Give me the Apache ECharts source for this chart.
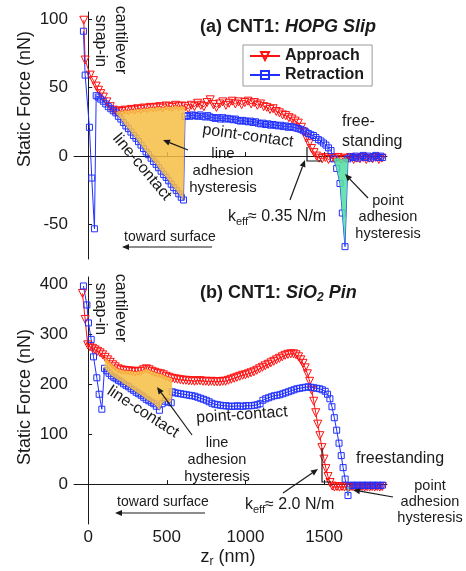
<!DOCTYPE html>
<html>
<head>
<meta charset="utf-8">
<script src="https://cdn.jsdelivr.net/npm/echarts@6/dist/echarts.min.js"></script>
<style>
  html, body { margin: 0; background: #fff; }
  #chart { width: 466px; height: 571px; }
</style>
</head>
<body>
<div id="chart"></div>
<script>
// tick values
const xTicks = [0, 500, 1000, 1500]
const yTicksA = [-50, 0, 50, 100]
const yTicksB = [0, 100, 200, 300, 400]

// (a) HOPG slip: [z_r (nm), force (nN)]
const approachA = [
  [-28, 99], [-19, 70], [13, 59], [34, 55], [51, 51], [66, 48], [80, 45.5], [97, 43], [119, 39.5], [140, 36],
  [161, 33.5], [178, 32], [195, 33], [215, 32.5], [235, 33.5], [255, 33], [275, 34], [295, 33.5], [315, 34.5],
  [335, 34], [355, 35], [375, 34.5], [395, 35.5], [415, 35], [435, 35.5], [455, 36], [475, 35], [495, 36.5],
  [515, 36], [535, 35.5], [555, 37], [575, 36], [595, 36.5], [616, 36], [636, 34.5], [656, 37], [676, 36],
  [696, 38.5], [716, 37], [736, 36], [756, 39], [776, 41], [796, 37.5], [816, 35.5], [836, 38], [856, 39.5],
  [876, 37], [896, 38.5], [916, 40], [936, 38], [956, 39.5], [976, 37.5], [996, 39], [1016, 40], [1036, 38],
  [1056, 39], [1076, 37], [1096, 38], [1116, 36], [1136, 35.5], [1156, 34], [1176, 34.5], [1196, 32.5],
  [1216, 31.5], [1236, 30], [1256, 29.5], [1276, 28], [1296, 27], [1316, 25.5], [1336, 24], [1356, 21],
  [1372, 17.5], [1388, 13], [1404, 9], [1420, 5.5], [1436, 2.5], [1452, 0], [1468, -1.5], [1488, -2],
  [1508, -1], [1528, -2.5], [1548, -1.5], [1568, -2], [1588, -1], [1608, -2.5], [1628, -1.5], [1648, -2],
  [1668, -1], [1688, -2.5], [1708, -1.5], [1728, -2], [1748, -1], [1768, -2.5], [1788, -1.5], [1808, -2],
  [1828, -1], [1848, -2.5], [1868, -1.5]
]
const retractionA = [
  [-30, 91], [-19, 59], [8, 21], [23, -16], [40, -53], [51, 44], [64, 43], [80, 41.5], [96, 40], [112, 38],
  [128, 36], [144, 34.5], [160, 33], [176, 31.5], [192, 29], [208, 27], [224, 24.5], [240, 22], [256, 20],
  [272, 17.5], [288, 15], [304, 13], [320, 10.5], [336, 8], [352, 5.5], [368, 3], [384, 1], [400, -1.5],
  [416, -4], [432, -6], [448, -8.5], [464, -11], [480, -13.5], [496, -15.5], [512, -18], [528, -20.5],
  [544, -23], [560, -25], [576, -27.5], [592, -30], [606, -32], [616, 29], [632, 29.5], [648, 29], [664, 30],
  [680, 29.5], [696, 29], [712, 30], [728, 29], [744, 28.5], [760, 29.5], [776, 28.5], [792, 28], [808, 27.5],
  [824, 28], [840, 27], [856, 28], [872, 27], [888, 27.5], [904, 27], [920, 26.5], [936, 27], [952, 26],
  [968, 25.5], [984, 26], [1000, 25.5], [1016, 25], [1032, 25.5], [1048, 24.5], [1064, 25], [1080, 24],
  [1096, 23.5], [1112, 24], [1128, 23], [1144, 23.5], [1160, 22.5], [1176, 23], [1192, 22.5], [1208, 22],
  [1224, 22.5], [1240, 21.5], [1256, 22], [1272, 21], [1288, 21.5], [1304, 21], [1320, 20.5], [1336, 20],
  [1352, 19.5], [1368, 18.5], [1384, 17.5], [1400, 16.5], [1416, 15.5], [1432, 15], [1448, 13.5], [1464, 12],
  [1480, 11], [1496, 9.5], [1512, 8], [1528, 6], [1544, 4], [1560, -2], [1580, -9], [1601, -20], [1616, -41.5],
  [1633, -66], [1652, -2], [1668, -0.5], [1684, -1], [1700, 0], [1716, -1.5], [1732, -0.5], [1748, 0.5],
  [1764, -1], [1780, 0], [1796, -1.5], [1812, -0.5], [1828, 0.5], [1844, -1], [1860, 0], [1872, -1]
]

// (b) SiO2 pin
const approachB = [
  [-36, 382], [-19, 330], [-3, 279], [12, 275], [28, 272], [44, 269], [60, 266], [76, 263], [92, 259],
  [108, 254], [124, 249], [140, 244], [156, 239], [172, 235], [190, 231], [208, 229], [226, 228], [244, 227],
  [262, 227], [280, 226], [298, 225], [316, 226], [334, 226], [352, 229], [370, 231], [388, 229], [406, 226],
  [424, 224], [442, 222], [460, 221], [478, 219], [496, 216], [514, 214], [532, 212], [550, 211], [568, 210],
  [586, 209], [604, 208], [622, 208], [640, 207], [658, 207], [676, 206], [694, 207], [712, 207], [730, 206],
  [748, 206], [766, 205], [784, 206], [802, 205], [820, 205], [838, 205], [856, 206], [874, 206], [892, 208],
  [910, 210], [928, 212], [946, 214], [964, 216], [982, 218], [1000, 219], [1018, 221], [1036, 223],
  [1054, 225], [1072, 228], [1090, 231], [1108, 234], [1126, 237], [1144, 240], [1162, 243], [1180, 246],
  [1198, 249], [1216, 252], [1234, 255], [1252, 258], [1270, 260], [1288, 261], [1306, 261], [1322, 259],
  [1338, 255], [1352, 249], [1366, 242], [1380, 233], [1394, 221], [1408, 206], [1421, 188], [1434, 166],
  [1447, 143], [1460, 120], [1473, 97], [1486, 73], [1499, 50], [1512, 31], [1525, 15], [1538, 3], [1552, -4],
  [1566, -6], [1582, -5], [1598, -6], [1614, -5], [1630, -6], [1646, -5], [1662, -6], [1678, -5], [1694, -6],
  [1710, -5], [1726, -6], [1742, -5], [1758, -6], [1774, -5], [1790, -6], [1806, -5], [1822, -6], [1838, -5],
  [1854, -6], [1870, -5]
]
const retractionB = [
  [-30, 397], [-8, 359], [2, 323], [19, 290], [34, 255], [55, 213], [70, 180], [87, 150], [104, 232],
  [118, 227], [133, 222], [148, 217], [163, 214], [178, 211], [193, 208], [209, 205], [225, 201], [241, 198],
  [257, 195], [273, 191], [289, 188], [305, 184], [321, 181], [337, 178], [353, 174], [369, 170], [385, 167],
  [401, 164], [417, 161], [433, 156], [453, 148], [470, 161], [489, 166], [510, 164], [528, 163], [535, 185],
  [553, 183], [571, 182], [589, 181], [607, 180], [625, 179], [643, 178], [661, 177], [679, 176], [697, 174],
  [715, 172], [733, 170], [751, 168], [769, 165], [787, 162], [805, 160], [823, 159], [841, 158], [859, 157],
  [877, 157], [895, 156], [913, 156], [931, 156], [949, 157], [967, 156], [985, 156], [1003, 157], [1021, 157],
  [1039, 157], [1057, 158], [1075, 159], [1093, 161], [1111, 168], [1129, 171], [1147, 173], [1165, 175],
  [1183, 177], [1201, 178], [1219, 179], [1237, 181], [1255, 183], [1273, 185], [1291, 187], [1309, 189],
  [1327, 191], [1345, 192], [1363, 193], [1381, 194], [1399, 195], [1417, 194], [1435, 193], [1453, 192],
  [1471, 191], [1489, 189], [1507, 186], [1522, 180], [1537, 171], [1550, 155], [1565, 133], [1580, 108],
  [1595, 82], [1609, 57], [1621, 33], [1634, 10], [1652, -23], [1664, -3], [1680, -2], [1696, -3], [1712, -2],
  [1728, -3], [1744, -2], [1760, -3], [1776, -2], [1792, -3], [1808, -2], [1824, -3], [1840, -2], [1856, -3],
  [1872, -2]
]

// x-ranges (nm) of the shaded hysteresis areas
const lineFillA = [165, 616]
const pointFillA = [1550, 1652]
const lineFillB = [100, 535]
const pointFillB = [1638, 1666]

const FONT = '"Liberation Sans", Arial, sans-serif'
const INK = '#1a1a1a'
const RED = '#ff1010'
const BLUE = '#2030ff'
const ORANGE = 'rgba(247,190,68,0.85)'
const GREEN = 'rgba(80,222,160,0.85)'

const chart = echarts.init(document.getElementById('chart'))

function xAxis(i, showLabel) {
  return {
    type: 'value', gridIndex: i, min: -90, max: 1900,
    axisLine: { lineStyle: { color: INK, width: 1 } },
    axisTick: { inside: true, length: 4, customValues: xTicks, lineStyle: { color: INK } },
    axisLabel: { show: showLabel, customValues: xTicks, formatter: v => String(v), fontSize: 17, margin: 5, color: INK, fontFamily: FONT },
    splitLine: { show: false }
  }
}
function yAxis(i, min, max, ticks) {
  return {
    type: 'value', gridIndex: i, min: min, max: max,
    axisLine: { show: true, lineStyle: { color: INK, width: 1 } },
    axisTick: { show: true, inside: true, length: 4, customValues: ticks, lineStyle: { color: INK } },
    axisLabel: { customValues: ticks, formatter: v => String(v), fontSize: 17, margin: 6, color: INK, fontFamily: FONT },
    splitLine: { show: false }
  }
}
function curve(name, i, data, color, approach) {
  return {
    name: name, type: 'line', xAxisIndex: i, yAxisIndex: i, data: data, z: 2,
    symbol: approach ? 'triangle' : 'rect', symbolRotate: approach ? 180 : 0,
    symbolSize: approach ? 8 : 6,
    lineStyle: { color: color, width: 1 },
    itemStyle: { color: 'rgba(255,255,255,0)', borderColor: color, borderWidth: 1 },
    emphasis: { disabled: true }, animation: false
  }
}
// shaded area between the approach (upper) and retraction (lower) curves
function hysteresis(i, upper, lower, range, color) {
  return {
    type: 'custom', xAxisIndex: i, yAxisIndex: i, z: 3, silent: true, animation: false,
    data: [[0, 0]],
    renderItem: function (params, api) {
      const inside = p => p[0] >= range[0] && p[0] <= range[1]
      const pts = upper.filter(inside).concat(lower.filter(inside).reverse()).map(p => api.coord(p))
      return { type: 'polygon', shape: { points: pts }, style: { fill: color } }
    }
  }
}

function txt(x, y, text, size, extra) {
  const s = Object.assign({
    text: text, fontSize: size, fontFamily: FONT, fill: INK,
    align: 'center', textAlign: 'center', verticalAlign: 'middle', textVerticalAlign: 'middle'
  }, (extra && extra.style) || {})
  return { type: 'text', x: x, y: y, rotation: (extra && extra.rotation) || 0, style: s, z: 10 }
}
function arrow(x1, y1, x2, y2) {
  const a = Math.atan2(y2 - y1, x2 - x1), L = 7, W = 3
  const bx = x2 - L * Math.cos(a), by = y2 - L * Math.sin(a)
  return [
    { type: 'line', z: 10, shape: { x1: x1, y1: y1, x2: bx, y2: by }, style: { stroke: INK, lineWidth: 1.2 } },
    { type: 'polygon', z: 10, shape: { points: [[x2, y2], [bx + W * Math.sin(a), by - W * Math.cos(a)], [bx - W * Math.sin(a), by + W * Math.cos(a)]] }, style: { fill: INK } }
  ]
}
function kTri(x, yTop, yBot, xEnd) {
  return { type: 'polyline', z: 10, shape: { points: [[x, yTop], [x, yBot], [xEnd, yBot]] }, style: { stroke: INK, lineWidth: 1.2, fill: null } }
}
const titleRich = {
  n: { fontSize: 18, fontWeight: 'bold', fontFamily: FONT, color: INK, lineHeight: 22 },
  i: { fontSize: 18, fontWeight: 'bold', fontStyle: 'italic', fontFamily: FONT, color: INK, lineHeight: 22 },
  s: { fontSize: 12, fontWeight: 'bold', fontStyle: 'italic', fontFamily: FONT, color: INK, lineHeight: 14, verticalAlign: 'bottom' }
}
const kRich = {
  m: { fontSize: 16, fontFamily: FONT, color: INK, lineHeight: 20 },
  s: { fontSize: 11, fontFamily: FONT, color: INK, lineHeight: 12, verticalAlign: 'bottom' }
}
const left = { align: 'left', textAlign: 'left' }

const graphics = [
  // titles
  txt(200, 27, '{n|(a) CNT1: }{i|HOPG Slip}', 18, { style: Object.assign({ rich: titleRich }, left) }),
  txt(200, 293, '{n|(b) CNT1: }{i|SiO}{s|2}{i| Pin}', 18, { style: Object.assign({ rich: titleRich }, left) }),
  // axis names
  txt(25, 99, 'Static Force (nN)', 18, { rotation: Math.PI / 2 }),
  txt(25, 397, 'Static Force (nN)', 18, { rotation: Math.PI / 2 }),
  txt(228, 557, '{m|z}{s|r}{m| (nm)}', 18, { style: { rich: {
    m: { fontSize: 18, fontFamily: FONT, color: INK, lineHeight: 22 },
    s: { fontSize: 12, fontFamily: FONT, color: INK, lineHeight: 14, verticalAlign: 'bottom' } } } }),
  // panel (a)
  txt(120, 40, 'cantilever', 16, { rotation: -Math.PI / 2 }),
  txt(100, 41, 'snap-in', 16, { rotation: -Math.PI / 2 }),
  txt(142, 167, 'line-contact', 16, { rotation: -50 * Math.PI / 180 }),
  txt(248, 136, 'point-contact', 16, { rotation: -8 * Math.PI / 180 }),
  txt(223, 171, 'line\nadhesion\nhysteresis', 15, { style: { lineHeight: 17 } }),
  txt(342, 132, 'free-\nstanding', 16, { style: Object.assign({ lineHeight: 20 }, left) }),
  txt(228, 217, '{m|k}{s|eff}{m|≈ 0.35 N/m}', 16, { style: Object.assign({ rich: kRich }, left) }),
  txt(388, 217, 'point\nadhesion\nhysteresis', 14.5, { style: { lineHeight: 16.5 } }),
  txt(170, 237, 'toward surface', 14),
  kTri(307, 147, 161, 322),
  ...arrow(188, 150, 163, 140),
  ...arrow(290, 200, 305, 160),
  ...arrow(368, 198, 345, 174),
  ...arrow(212, 247, 122, 247),
  // panel (b)
  txt(120, 308, 'cantilever', 16, { rotation: -Math.PI / 2 }),
  txt(100, 309, 'snap-in', 16, { rotation: -Math.PI / 2 }),
  txt(143, 412, 'line-contact', 16, { rotation: -33 * Math.PI / 180 }),
  txt(242, 415, 'point-contact', 16, { rotation: 4 * Math.PI / 180 }),
  txt(217, 460, 'line\nadhesion\nhysteresis', 14.5, { style: { lineHeight: 17.3 } }),
  txt(400, 459, 'freestanding', 16),
  txt(245, 505, '{m|k}{s|eff}{m|≈ 2.0 N/m}', 16, { style: Object.assign({ rich: kRich }, left) }),
  txt(430, 502, 'point\nadhesion\nhysteresis', 14.5, { style: { lineHeight: 16.2 } }),
  txt(163, 502, 'toward surface', 14),
  kTri(322, 448, 482, 331),
  ...arrow(192, 435, 157, 387),
  ...arrow(283, 493, 318, 469),
  ...arrow(393, 497, 353, 490),
  ...arrow(205, 513, 115, 513)
]

chart.setOption({
  animation: false,
  backgroundColor: '#fff',
  grid: [
    { left: 74, top: 12, width: 313, height: 247 },
    { left: 74, top: 277, width: 313, height: 247 }
  ],
  xAxis: [xAxis(0, false), xAxis(1, true)],
  yAxis: [yAxis(0, -75, 105, yTicksA), yAxis(1, -80, 415, yTicksB)],
  legend: {
    data: ['Approach', 'Retraction'],
    left: 243, top: 45, orient: 'vertical', itemGap: 3, itemWidth: 30, itemHeight: 10,
    padding: [3, 8, 3, 6], borderColor: '#999', borderWidth: 1, backgroundColor: '#fff',
    textStyle: { fontFamily: FONT, fontSize: 16, fontWeight: 'bold', color: INK }
  },
  series: [
    curve('Approach', 0, approachA, RED, true),
    curve('Retraction', 0, retractionA, BLUE, false),
    curve('Approach', 1, approachB, RED, true),
    curve('Retraction', 1, retractionB, BLUE, false),
    hysteresis(0, approachA, retractionA, lineFillA, ORANGE),
    hysteresis(0, approachA, retractionA, pointFillA, GREEN),
    hysteresis(1, approachB, retractionB, lineFillB, ORANGE),
    hysteresis(1, approachB, retractionB, pointFillB, GREEN)
  ],
  graphic: graphics
})
</script>
</body>
</html>
